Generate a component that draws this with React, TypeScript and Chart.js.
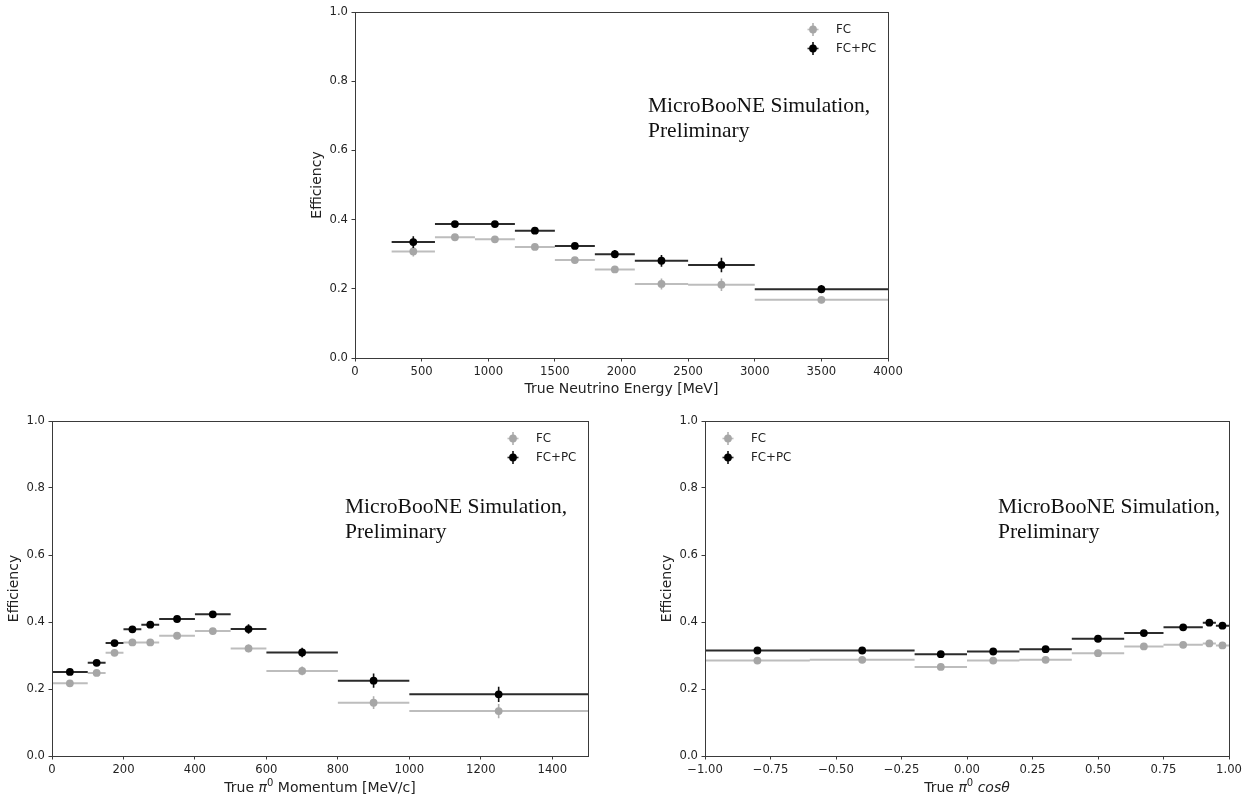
import React, { useEffect, useRef } from 'react';
import { Chart, registerables } from 'chart.js';

Chart.register(...registerables);
Chart.defaults.font.family = '"DejaVu Sans", sans-serif';

// ---------- DATA ----------
// Top: true neutrino energy
const energyEdges = [275, 600, 900, 1200, 1500, 1800, 2100, 2500, 3000, 4000];
const energyFC = [0.308, 0.349, 0.343, 0.321, 0.283, 0.256, 0.214, 0.212, 0.168];
const energyFCErr = [0.015, 0.006, 0.006, 0.006, 0.007, 0.008, 0.016, 0.018, 0.010];
const energyFCPC = [0.335, 0.387, 0.387, 0.368, 0.324, 0.300, 0.281, 0.269, 0.199];
const energyFCPCErr = [0.017, 0.006, 0.006, 0.006, 0.007, 0.012, 0.017, 0.021, 0.012];

// Bottom left: true pi0 momentum
const momentumEdges = [0, 100, 150, 200, 250, 300, 400, 500, 600, 800, 1000, 1500];
const momentumFC = [0.217, 0.248, 0.308, 0.339, 0.339, 0.359, 0.373, 0.321, 0.254, 0.159, 0.134];
const momentumFCErr = [0.006, 0.007, 0.007, 0.007, 0.007, 0.006, 0.006, 0.012, 0.013, 0.019, 0.021];
const momentumFCPC = [0.251, 0.278, 0.337, 0.378, 0.392, 0.409, 0.423, 0.379, 0.309, 0.225, 0.184];
const momentumFCPCErr = [0.007, 0.008, 0.008, 0.009, 0.008, 0.007, 0.009, 0.014, 0.014, 0.021, 0.023];

// Bottom right: true pi0 cos(theta)
const cosEdges = [-1, -0.6, -0.2, 0, 0.2, 0.4, 0.6, 0.75, 0.9, 0.95, 1];
const cosFC = [0.285, 0.287, 0.266, 0.285, 0.287, 0.307, 0.327, 0.332, 0.336, 0.330];
const cosFCErr = [0.005, 0.005, 0.006, 0.005, 0.005, 0.005, 0.005, 0.005, 0.007, 0.007];
const cosFCPC = [0.315, 0.315, 0.304, 0.312, 0.319, 0.350, 0.367, 0.384, 0.398, 0.389];
const cosFCPCErr = [0.005, 0.005, 0.007, 0.006, 0.006, 0.006, 0.006, 0.006, 0.008, 0.008];

const seriesLabels = ['FC', 'FC+PC'];
const yTitle = 'Efficiency';
const annotationLines = ['MicroBooNE Simulation,', 'Preliminary'];

// ---------- STYLE ----------
const FC_BAR = '#bdbdbd';
const FC_ERR = '#afafaf';
const FC_MARK = '#a6a6a6';
const PC_BAR = '#2b2b2b';
const PC_ERR = '#111111';
const PC_MARK = '#000000';
const TEXT = '#222222';
const F14 = '14px "DejaVu Sans"';
const F14I = 'italic 14px "DejaVu Sans"';
const F10 = '10px "DejaVu Sans"';

function binSeries(edges: number[], vals: number[], errs: number[], barColor: string, errColor: string, markColor: string, orderBase: number, label: string) {
  const bars: any[] = [];
  const errBars: any[] = [];
  const pts: any[] = [];
  vals.forEach((v, i) => {
    const lo = edges[i];
    const hi = edges[i + 1];
    const c = (lo + hi) / 2;
    bars.push({ x: lo, y: v }, { x: hi, y: v }, { x: hi, y: null });
    errBars.push({ x: c, y: v - errs[i] }, { x: c, y: v + errs[i] }, { x: c, y: null });
    pts.push({ x: c, y: v });
  });
  return [
    { type: 'line', label: label + ' bins', data: bars, borderColor: barColor, borderWidth: 2, pointRadius: 0, spanGaps: false, fill: false, order: orderBase + 2, borderCapStyle: 'butt', tension: 0 },
    { type: 'line', label: label + ' err', data: errBars, borderColor: errColor, borderWidth: 1.6, pointRadius: 0, spanGaps: false, fill: false, order: orderBase + 1, borderCapStyle: 'butt', tension: 0 },
    { type: 'line', label, data: pts, showLine: false, pointRadius: 3.9, pointHoverRadius: 3.9, pointBackgroundColor: markColor, pointBorderWidth: 0, borderColor: markColor, order: orderBase },
  ];
}

function drawParts(ctx: CanvasRenderingContext2D, parts: any[], cx: number, baseline: number) {
  let total = 0;
  parts.forEach((p) => { ctx.font = p.font; total += ctx.measureText(p.t).width; });
  let x = cx - total / 2;
  ctx.textAlign = 'left';
  ctx.textBaseline = 'alphabetic';
  parts.forEach((p) => {
    ctx.font = p.font;
    ctx.fillText(p.t, x, baseline + (p.dy || 0));
    x += ctx.measureText(p.t).width;
  });
}

const extrasPlugin = {
  id: 'extras',
  afterDraw(chart: any, _args: any, opts: any) {
    const ctx: CanvasRenderingContext2D = chart.ctx;
    const a = chart.chartArea;
    ctx.save();
    // frame
    ctx.strokeStyle = '#3a3a3a';
    ctx.lineWidth = 1;
    ctx.strokeRect(a.left + 0.5, a.top + 0.5, a.right - a.left, a.bottom - a.top);
    ctx.fillStyle = TEXT;
    // x title
    drawParts(ctx, opts.xTitle, (a.left + a.right) / 2, a.bottom + opts.xTitleDy);
    // y title
    ctx.save();
    ctx.translate(a.left - 38, (a.top + a.bottom) / 2);
    ctx.rotate(-Math.PI / 2);
    ctx.font = F14;
    ctx.textAlign = 'center';
    ctx.textBaseline = 'middle';
    ctx.fillText(yTitle, 0, 0);
    ctx.restore();
    // annotation
    ctx.font = '21.5px "Liberation Serif"';
    ctx.fillStyle = '#111';
    ctx.textAlign = 'left';
    ctx.textBaseline = 'alphabetic';
    annotationLines.forEach((line, i) => {
      ctx.fillText(line, a.left + 293, a.top + opts.annotDy + i * 25);
    });
    // legend
    const entries = [
      { label: seriesLabels[0], bar: FC_BAR, err: FC_ERR, mark: FC_MARK },
      { label: seriesLabels[1], bar: PC_BAR, err: PC_ERR, mark: PC_MARK },
    ];
    entries.forEach((e, i) => {
      const y = a.top + 17.5 + i * 19;
      const mx = opts.legendSide === 'right' ? a.right - 75 : a.left + 23;
      ctx.lineWidth = 1.6;
      ctx.strokeStyle = e.bar;
      ctx.beginPath();
      ctx.moveTo(mx - 5.5, y);
      ctx.lineTo(mx + 5.5, y);
      ctx.stroke();
      ctx.strokeStyle = e.err;
      ctx.beginPath();
      ctx.moveTo(mx, y - 6.5);
      ctx.lineTo(mx, y + 6.5);
      ctx.stroke();
      ctx.fillStyle = e.mark;
      ctx.beginPath();
      ctx.arc(mx, y, 3.9, 0, Math.PI * 2);
      ctx.fill();
      ctx.fillStyle = TEXT;
      ctx.font = '11.8px "DejaVu Sans"';
      ctx.textBaseline = 'middle';
      ctx.fillText(e.label, mx + 23, y);
    });
    ctx.restore();
  },
};

function tickOpts(cb: (v: number) => string) {
  return { color: TEXT, font: { size: 11.6, family: '"DejaVu Sans"' }, padding: 3.5, callback: cb, maxRotation: 0, autoSkip: false };
}
const gridOpts = { display: true, drawOnChartArea: false, drawTicks: true, tickLength: 3.5, color: '#3a3a3a', lineWidth: 1 };

function buildConfig(spec: any): any {
  const datasets = [
    ...binSeries(spec.edges, spec.fc, spec.fcErr, FC_BAR, FC_ERR, FC_MARK, 4, seriesLabels[0]),
    ...binSeries(spec.edges, spec.pc, spec.pcErr, PC_BAR, PC_ERR, PC_MARK, 1, seriesLabels[1]),
  ];
  return {
    type: 'line',
    data: { datasets },
    options: {
      animation: false,
      responsive: false,
      maintainAspectRatio: false,
      devicePixelRatio: 1,
      events: [],
      layout: { padding: { left: 0, top: spec.padTop, right: spec.padRight, bottom: 0 } },
      plugins: {
        legend: { display: false },
        tooltip: { enabled: false },
        extras: { xTitle: spec.xTitle, xTitleDy: spec.xTitleDy, annotDy: spec.annotDy, legendSide: spec.legendSide },
      },
      scales: {
        x: {
          type: 'linear',
          min: spec.xMin,
          max: spec.xMax,
          afterFit: (s: any) => { s.height = spec.xAxisH; },
          ticks: { ...tickOpts(spec.xFmt), stepSize: spec.xStep, includeBounds: false },
          grid: gridOpts,
          border: { display: false },
        },
        y: {
          type: 'linear',
          min: 0,
          max: 1,
          afterFit: (s: any) => { s.width = spec.yAxisW; },
          ticks: { ...tickOpts((v: number) => v.toFixed(1)), stepSize: 0.2 },
          grid: gridOpts,
          border: { display: false },
        },
      },
    },
    plugins: [extrasPlugin],
  };
}

const panels = [
  {
    key: 'energy', left: 290, top: 0, w: 640, h: 400,
    yAxisW: 65, padTop: 12, padRight: 42, xAxisH: 42,
    edges: energyEdges, fc: energyFC, fcErr: energyFCErr, pc: energyFCPC, pcErr: energyFCPCErr,
    xMin: 0, xMax: 4000, xStep: 500, xFmt: (v: number) => String(Math.round(v)),
    xTitle: [{ t: 'True Neutrino Energy [MeV]', font: F14 }],
    xTitleDy: 34.5, annotDy: 99.7, legendSide: 'right',
  },
  {
    key: 'momentum', left: 0, top: 400, w: 640, h: 399,
    yAxisW: 52, padTop: 21, padRight: 52, xAxisH: 43,
    edges: momentumEdges, fc: momentumFC, fcErr: momentumFCErr, pc: momentumFCPC, pcErr: momentumFCPCErr,
    xMin: 0, xMax: 1500, xStep: 200, xFmt: (v: number) => String(Math.round(v)),
    xTitle: [
      { t: 'True ', font: F14 },
      { t: 'π', font: F14I },
      { t: '0', font: F10, dy: -6 },
      { t: ' Momentum [MeV/c]', font: F14 },
    ],
    xTitleDy: 36, annotDy: 91.7, legendSide: 'right',
  },
  {
    key: 'cos', left: 640, top: 400, w: 610, h: 399,
    yAxisW: 65, padTop: 21, padRight: 21, xAxisH: 43,
    edges: cosEdges, fc: cosFC, fcErr: cosFCErr, pc: cosFCPC, pcErr: cosFCPCErr,
    xMin: -1, xMax: 1, xStep: 0.25,
    xFmt: (v: number) => { const r = Math.round(v * 100) / 100; return (r < 0 ? '\u2212' : '') + Math.abs(r).toFixed(2); },
    xTitle: [
      { t: 'True ', font: F14 },
      { t: 'π', font: F14I },
      { t: '0', font: F10, dy: -6 },
      { t: ' ', font: F14 },
      { t: 'cosθ', font: F14I },
    ],
    xTitleDy: 36, annotDy: 91.7, legendSide: 'left',
  },
];

function ChartPanel({ spec }: { spec: any }) {
  const ref = useRef<HTMLCanvasElement>(null);
  useEffect(() => {
    const chart = new Chart(ref.current as HTMLCanvasElement, buildConfig(spec));
    return () => chart.destroy();
  }, [spec]);
  return (
    <canvas
      ref={ref}
      width={spec.w}
      height={spec.h}
      style={{ position: 'absolute', left: spec.left, top: spec.top, width: spec.w, height: spec.h }}
    />
  );
}

export default function App() {
  return (
    <div style={{ position: 'absolute', left: 0, top: 0, width: 1250, height: 799, background: '#ffffff', overflow: 'hidden' }}>
      {panels.map((p) => (
        <ChartPanel key={p.key} spec={p} />
      ))}
    </div>
  );
}
